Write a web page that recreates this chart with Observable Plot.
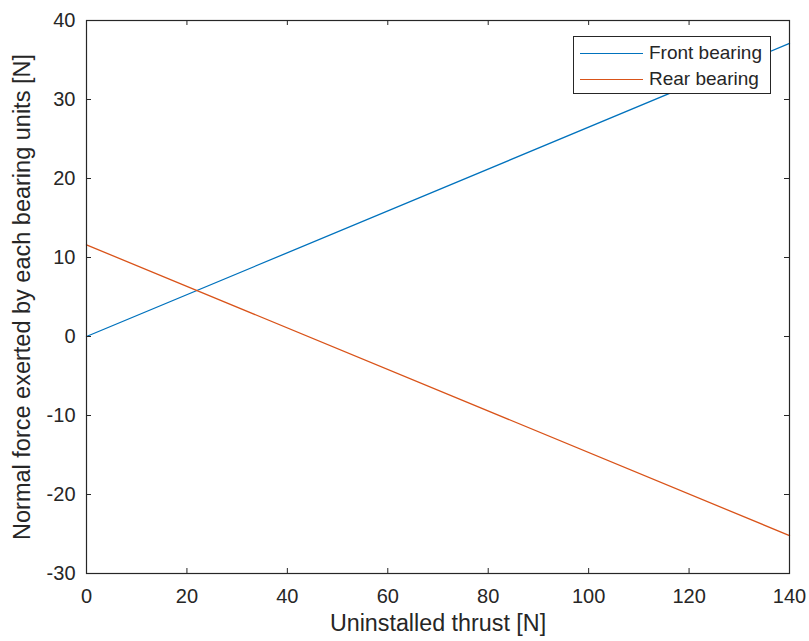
<!DOCTYPE html>
<html><head><meta charset="utf-8">
<script src="https://cdn.jsdelivr.net/npm/d3@7"></script>
<script src="https://cdn.jsdelivr.net/npm/@observablehq/plot@0.6"></script>
<style>
body{margin:0;background:#fff;font-family:"Liberation Sans",Arial,sans-serif;}
#wrap{position:relative;width:809px;height:641px;}
#legend{position:absolute;left:573px;top:36px;width:198px;height:58px;border:1px solid #262626;background:#fff;box-sizing:border-box;font-size:19px;color:#262626;}
.row{position:absolute;left:6px;height:22px;display:flex;align-items:center;white-space:nowrap;}
.row span.sw{display:inline-block;width:63px;height:0;border-top:1.2px solid;margin-right:6px;}
</style></head>
<body><div id="wrap"><div id="legend"></div></div>
<script>
const seriesNames = ["Front bearing", "Rear bearing"];
const colors = ["#0072BD", "#D95319"];
const thrust = [0, 140];
const frontForce = [0, 37.1];
const rearForce = [11.6, -25.2];
const xTicks = [0, 20, 40, 60, 80, 100, 120, 140];
const yTicks = [-30, -20, -10, 0, 10, 20, 30, 40];

const data = [];
thrust.forEach((t, i) => {
  data.push({x: t, y: frontForce[i], s: seriesNames[0]});
  data.push({x: t, y: rearForce[i], s: seriesNames[1]});
});

const W = 809, H = 641, mL = 86, mR = 20, mT = 20, mB = 68;
const ph = H - mT - mB, pw = W - mL - mR;
const tk = 5;
const ink = "#262626";

const chart = Plot.plot({
  width: W, height: H,
  marginLeft: mL, marginRight: mR, marginTop: mT, marginBottom: mB,
  style: {fontFamily: '"Liberation Sans", Arial, sans-serif', fontSize: "16px", color: ink, background: "#fff"},
  x: {domain: [0, 140]},
  y: {domain: [-30, 40]},
  color: {domain: seriesNames, range: colors},
  marks: [
    Plot.line(data, {x: "x", y: "y", z: "s", stroke: "s", strokeWidth: 1.3}),
    Plot.tickX(xTicks, {x: d => d, stroke: ink, insetTop: ph - tk}),
    Plot.tickX(xTicks, {x: d => d, stroke: ink, insetBottom: ph - tk}),
    Plot.tickY(yTicks, {y: d => d, stroke: ink, insetRight: pw - tk}),
    Plot.tickY(yTicks, {y: d => d, stroke: ink, insetLeft: pw - tk}),
    Plot.frame({stroke: ink, strokeWidth: 1.2}),
    Plot.axisX(xTicks, {tickSize: 0, tickPadding: 15, fontSize: 20, label: null, fill: ink, tickFormat: d => String(d)}),
    Plot.axisY(yTicks, {tickSize: 0, tickPadding: 11, fontSize: 20, label: null, fill: ink, tickFormat: d => String(d)}),
    Plot.text(["Uninstalled thrust [N]"], {frameAnchor: "bottom", dy: 57, fontSize: 23.3, fill: ink, textAnchor: "middle"}),
    Plot.text(["Normal force exerted by each bearing units [N]"], {frameAnchor: "left", dx: -64, rotate: -90, fontSize: 23.5, fill: ink, textAnchor: "middle"})
  ]
});
document.getElementById("wrap").prepend(chart);

const leg = document.getElementById("legend");
seriesNames.forEach((n, i) => {
  const r = document.createElement("div");
  r.className = "row";
  r.style.top = (5 + i * 26) + "px";
  r.innerHTML = `<span class="sw" style="border-color:${colors[i]}"></span><span>${n}</span>`;
  leg.appendChild(r);
});
</script></body></html>
